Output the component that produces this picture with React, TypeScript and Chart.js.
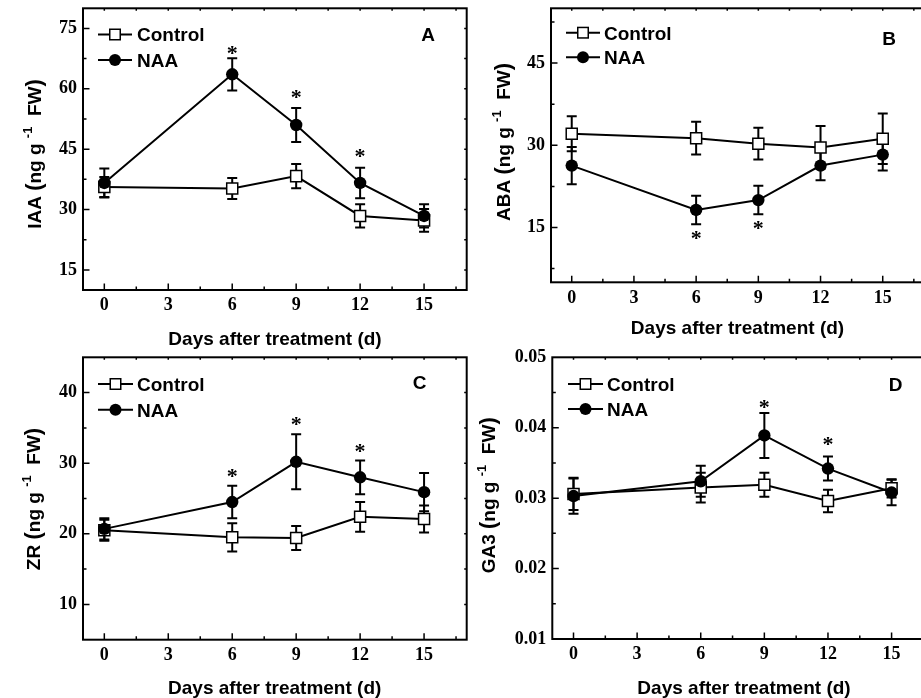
import React, { useEffect, useRef } from "react";
import { Chart, registerables } from "chart.js";

Chart.register(...registerables);

// ---------- data ----------
const days = [0, 6, 9, 12, 15];
const dayTicks = [0, 3, 6, 9, 12, 15];
const seriesNames = ["Control", "NAA"];
const xTitle = "Days after treatment (d)";

// A: IAA
const iaaControl = [35.6, 35.2, 38.3, 28.4, 27.3];
const iaaControlErr = [2.5, 2.6, 3.0, 2.9, 2.8];
const iaaNAA = [36.6, 63.6, 51.0, 36.6, 28.4];
const iaaNAAErr = [3.6, 4.0, 4.2, 3.8, 2.9];
const iaaStars = [null, 69.4, 58.7, 43.8, null];
const iaaTicks = [15, 30, 45, 60, 75];

// B: ABA
const abaControl = [32.1, 31.3, 30.3, 29.6, 31.2];
const abaControlErr = [3.2, 3.0, 2.9, 3.9, 4.6];
const abaNAA = [26.3, 18.2, 20.0, 26.3, 28.3];
const abaNAAErr = [3.4, 2.6, 2.6, 2.7, 2.9];
const abaStars = [null, 13.5, 15.3, null, null];
const abaTicks = [15, 30, 45];

// C: ZR
const zrControl = [20.5, 19.5, 19.4, 22.4, 22.1];
const zrControlErr = [1.5, 2.0, 1.7, 2.1, 1.9];
const zrNAA = [20.7, 24.5, 30.2, 28.0, 25.9];
const zrNAAErr = [1.5, 2.3, 3.9, 2.4, 2.7];
const zrStars = [null, 28.6, 35.9, 32.1, null];
const zrTicks = [10, 20, 30, 40];

// D: GA3
const ga3Control = [0.0306, 0.0315, 0.0319, 0.0296, 0.0314];
const ga3ControlErr = [0.0023, 0.0021, 0.0017, 0.0016, 0.0013];
const ga3NAA = [0.0303, 0.0324, 0.0389, 0.0342, 0.0308];
const ga3NAAErr = [0.0025, 0.0022, 0.0032, 0.0017, 0.0018];
const ga3Stars = [null, null, 0.0433, 0.038, null];
const ga3Ticks = [0.01, 0.02, 0.03, 0.04, 0.05];

// ---------- styles / layout ----------
const SANS = "'Liberation Sans', Arial, sans-serif";
const SERIF = "'Liberation Serif', 'Times New Roman', serif";

type Panel = {
  id: string;
  box: [number, number, number, number];
  area: [number, number, number, number];
  yMin: number;
  yMax: number;
  yTicks: number[];
  yMinor: number;
  decimals: number;
  control: number[];
  controlErr: number[];
  naa: number[];
  naaErr: number[];
  stars: (number | null)[];
  yLabel: string;
  yTitlePos: [number, number];
  xTitlePos: [number, number];
  legend: [number, number, number, number, number];
  letterPos: [number, number];
};

const panels: Panel[] = [
  {
    id: "A",
    box: [0, -20, 500, 369],
    area: [83, 8.3, 466.7, 290],
    yMin: 10, yMax: 80, yTicks: iaaTicks, yMinor: 7.5, decimals: 0,
    control: iaaControl, controlErr: iaaControlErr, naa: iaaNAA, naaErr: iaaNAAErr, stars: iaaStars,
    yLabel: "IAA",
    yTitlePos: [40.7, 154],
    xTitlePos: [275, 345],
    legend: [98, 132, 137, 34.5, 60],
    letterPos: [428, 40.7],
  },
  {
    id: "B",
    box: [460, -20, 500, 369],
    area: [551, 8.3, 924.2, 282.3],
    yMin: 5, yMax: 55, yTicks: abaTicks, yMinor: 7.5, decimals: 0,
    control: abaControl, controlErr: abaControlErr, naa: abaNAA, naaErr: abaNAAErr, stars: abaStars,
    yLabel: "ABA",
    yTitlePos: [510, 142],
    xTitlePos: [737.5, 334.3],
    legend: [566, 600, 604, 32.7, 57.3],
    letterPos: [889, 45],
  },
  {
    id: "C",
    box: [0, 330, 500, 368],
    area: [83, 357.3, 466.7, 639.7],
    yMin: 5, yMax: 45, yTicks: zrTicks, yMinor: 5, decimals: 0,
    control: zrControl, controlErr: zrControlErr, naa: zrNAA, naaErr: zrNAAErr, stars: zrStars,
    yLabel: "ZR",
    yTitlePos: [40, 499],
    xTitlePos: [274.7, 694],
    legend: [98, 133, 137, 384, 409.7],
    letterPos: [419.5, 389],
  },
  {
    id: "D",
    box: [460, 330, 500, 368],
    area: [552.3, 357.3, 934, 639],
    yMin: 0.01, yMax: 0.05, yTicks: ga3Ticks, yMinor: 0.005, decimals: 2,
    control: ga3Control, controlErr: ga3ControlErr, naa: ga3NAA, naaErr: ga3NAAErr, stars: ga3Stars,
    yLabel: "GA3",
    yTitlePos: [495, 495.3],
    xTitlePos: [744, 694],
    legend: [568, 603, 607, 384, 409],
    letterPos: [895.5, 390.7],
  },
];

function drawSquare(ctx: CanvasRenderingContext2D, x: number, y: number, side: number) {
  ctx.save();
  ctx.fillStyle = "#fff";
  ctx.strokeStyle = "#000";
  ctx.lineWidth = 1.5;
  ctx.fillRect(x - side / 2, y - side / 2, side, side);
  ctx.strokeRect(x - side / 2, y - side / 2, side, side);
  ctx.restore();
}
function drawDot(ctx: CanvasRenderingContext2D, x: number, y: number, r: number) {
  ctx.save();
  ctx.fillStyle = "#000";
  ctx.beginPath();
  ctx.arc(x, y, r, 0, Math.PI * 2);
  ctx.fill();
  ctx.restore();
}

function makeDecor(p: Panel) {
  const [cx, cy] = p.box;
  return {
    id: "decor" + p.id,
    beforeDatasetsDraw(chart: any) {
      const ctx: CanvasRenderingContext2D = chart.ctx;
      const xs = chart.scales.x;
      const ys = chart.scales.y;
      ctx.save();
      ctx.strokeStyle = "#000";
      ctx.lineWidth = 2;
      const sets: [number[], number[]][] = [
        [p.control, p.controlErr],
        [p.naa, p.naaErr],
      ];
      sets.forEach(([vals, errs]) => {
        vals.forEach((v, i) => {
          const x = xs.getPixelForValue(days[i]);
          const y1 = ys.getPixelForValue(v + errs[i]);
          const y2 = ys.getPixelForValue(v - errs[i]);
          ctx.beginPath();
          ctx.moveTo(x, y1);
          ctx.lineTo(x, y2);
          ctx.moveTo(x - 5, y1);
          ctx.lineTo(x + 5, y1);
          ctx.moveTo(x - 5, y2);
          ctx.lineTo(x + 5, y2);
          ctx.stroke();
        });
      });
      ctx.restore();
    },
    afterDatasetsDraw(chart: any) {
      const ctx: CanvasRenderingContext2D = chart.ctx;
      const xs = chart.scales.x;
      const ys = chart.scales.y;
      const a = chart.chartArea;
      const L = a.left, R = a.right, T = a.top, B = a.bottom;
      ctx.save();
      ctx.strokeStyle = "#000";
      ctx.lineWidth = 2;
      ctx.strokeRect(L, T, R - L, B - T);

      // y ticks
      ctx.lineWidth = 1.5;
      const eps = 1e-9;
      const yStart = Math.ceil(p.yMin / p.yMinor - 1e-6);
      for (let k = yStart; k * p.yMinor <= p.yMax + eps; k++) {
        const v = k * p.yMinor;
        if (Math.abs(v - p.yMin) < 1e-9 || Math.abs(v - p.yMax) < 1e-9) continue;
        const isMajor = p.yTicks.some((t) => Math.abs(t - v) < p.yMinor * 1e-3);
        const y = ys.getPixelForValue(v);
        ctx.beginPath();
        ctx.moveTo(L, y);
        ctx.lineTo(L + (isMajor ? 6.5 : 3.5), y);
        ctx.moveTo(R, y);
        ctx.lineTo(R - 2.5, y);
        ctx.stroke();
      }
      // x ticks
      for (let k = 0; k * 1.5 < 17; k++) {
        const v = k * 1.5;
        const isMajor = dayTicks.includes(v);
        const x = xs.getPixelForValue(v);
        ctx.beginPath();
        ctx.moveTo(x, B);
        ctx.lineTo(x, B - (isMajor ? 6.5 : 3.5));
        ctx.moveTo(x, T);
        ctx.lineTo(x, T + 2.5);
        ctx.stroke();
      }

      // stars
      ctx.fillStyle = "#000";
      ctx.font = `bold 22px ${SERIF}`;
      ctx.textAlign = "center";
      ctx.textBaseline = "alphabetic";
      const m = ctx.measureText("*");
      const off = (m.actualBoundingBoxAscent - m.actualBoundingBoxDescent) / 2;
      p.stars.forEach((s, i) => {
        if (s === null) return;
        const x = xs.getPixelForValue(days[i]);
        const y = ys.getPixelForValue(s);
        ctx.fillText("*", x, y + off);
      });

      // legend
      const [lx1, lx2, tx, ly1, ly2] = p.legend;
      const lys = [ly1, ly2];
      ctx.font = `bold 19px ${SANS}`;
      ctx.textAlign = "left";
      seriesNames.forEach((name, i) => {
        const y = lys[i] - cy;
        ctx.lineWidth = 2;
        ctx.beginPath();
        ctx.moveTo(lx1 - cx, y);
        ctx.lineTo(lx2 - cx, y);
        ctx.stroke();
        const mx = (lx1 + lx2) / 2 - cx;
        if (i === 0) drawSquare(ctx, mx, y, 10.5);
        else drawDot(ctx, mx, y, 6);
        ctx.fillStyle = "#000";
        ctx.fillText(name, tx - cx, y + 6.8);
      });

      // panel letter
      ctx.textAlign = "center";
      ctx.fillText(p.id, p.letterPos[0] - cx, p.letterPos[1] - cy);

      // x title
      ctx.fillText(xTitle, p.xTitlePos[0] - cx, p.xTitlePos[1] - cy);

      // y title (rotated, with superscript)
      const pieces = [
        { t: p.yLabel + " ", s: 19, rise: 0 },
        { t: "(", s: 22, rise: 0 },
        { t: "ng g ", s: 19, rise: 0 },
        { t: "-1", s: 13, rise: 9 },
        { t: "  FW", s: 19, rise: 0 },
        { t: ")", s: 22, rise: 0 },
      ];
      let total = 0;
      const widths = pieces.map((pc) => {
        ctx.font = `bold ${pc.s}px ${SANS}`;
        const w = ctx.measureText(pc.t).width;
        total += w;
        return w;
      });
      ctx.translate(p.yTitlePos[0] - cx, p.yTitlePos[1] - cy);
      ctx.rotate(-Math.PI / 2);
      ctx.textAlign = "left";
      let px = -total / 2;
      pieces.forEach((pc, i) => {
        ctx.font = `bold ${pc.s}px ${SANS}`;
        ctx.fillText(pc.t, px, -pc.rise);
        px += widths[i];
      });
      ctx.restore();
    },
  };
}

function PanelChart({ p }: { p: Panel }) {
  const ref = useRef<HTMLCanvasElement>(null);
  const [cx, cy, cw, ch] = p.box;
  const [L, T, R, B] = p.area;
  useEffect(() => {
    const canvas = ref.current;
    if (!canvas) return;
    const chart = new Chart(canvas, {
      type: "line",
      data: {
        datasets: [
          {
            label: seriesNames[1],
            data: days.map((d, i) => ({ x: d, y: p.naa[i] })),
            borderColor: "#000",
            borderWidth: 2,
            pointStyle: "circle",
            pointRadius: 6.2,
            pointBackgroundColor: "#000",
            pointBorderColor: "#000",
            pointBorderWidth: 0,
            order: 0,
          },
          {
            label: seriesNames[0],
            data: days.map((d, i) => ({ x: d, y: p.control[i] })),
            borderColor: "#000",
            borderWidth: 2,
            pointStyle: "rect",
            pointRadius: 7.8,
            pointBackgroundColor: "#fff",
            pointBorderColor: "#000",
            pointBorderWidth: 1.5,
            order: 1,
          },
        ],
      },
      options: {
        responsive: false,
        animation: false,
        devicePixelRatio: 1,
        events: [],
        layout: { padding: { left: 0, top: T - cy, right: cx + cw - R, bottom: 0 } },
        plugins: {
          legend: { display: false },
          tooltip: { enabled: false },
          title: { display: false },
        },
        scales: {
          x: {
            type: "linear",
            min: -1,
            max: 17,
            grid: { display: false, drawTicks: false },
            border: { display: false },
            afterBuildTicks: (s: any) => {
              s.ticks = dayTicks.map((v) => ({ value: v }));
            },
            afterFit: (s: any) => {
              s.height = cy + ch - B;
            },
            ticks: {
              padding: 5,
              autoSkip: false,
              maxRotation: 0,
              color: "#000",
              font: { family: SERIF, size: 18, weight: "bold" },
              callback: (v: any) => String(v),
            },
          },
          y: {
            type: "linear",
            min: p.yMin,
            max: p.yMax,
            grid: { display: false, drawTicks: false },
            border: { display: false },
            afterBuildTicks: (s: any) => {
              s.ticks = p.yTicks.map((v) => ({ value: v }));
            },
            afterFit: (s: any) => {
              s.width = L - cx;
            },
            ticks: {
              padding: 6,
              autoSkip: false,
              color: "#000",
              font: { family: SERIF, size: 18, weight: "bold" },
              callback: (v: any) => Number(v).toFixed(p.decimals),
            },
          },
        },
      } as any,
      plugins: [makeDecor(p)],
    });
    return () => chart.destroy();
  }, [p]);
  return (
    <canvas
      ref={ref}
      width={cw}
      height={ch}
      style={{ position: "absolute", left: cx, top: cy, width: cw, height: ch }}
    />
  );
}

export default function App() {
  return (
    <div
      style={{
        position: "fixed",
        left: 0,
        top: 0,
        width: 921,
        height: 698,
        overflow: "hidden",
        background: "#fff",
      }}
    >
      {panels.map((p) => (
        <PanelChart key={p.id} p={p} />
      ))}
    </div>
  );
}
